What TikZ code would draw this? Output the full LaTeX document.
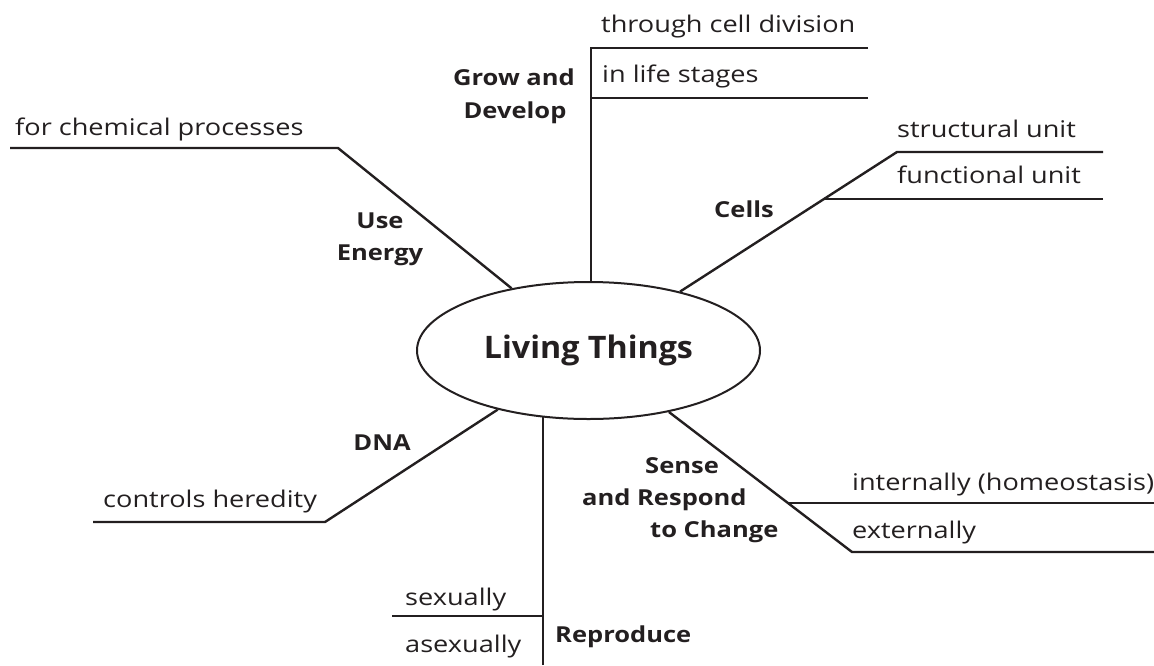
\documentclass[tikz,border=0pt]{standalone}
\usepackage{fontspec}
\setmainfont{Open Sans}
\newfontfamily\leaffont[FakeStretch=1.18]{Open Sans}
\newfontfamily\labfont[FakeStretch=1.16]{Open Sans}
\newfontfamily\titlefont[FakeStretch=1.04]{Open Sans}
\usetikzlibrary{shapes.geometric}
\definecolor{ink}{HTML}{231F20}
\begin{document}
\begin{tikzpicture}[x=1pt,y=-1pt,
  conn/.style={draw=ink,line width=2.4pt},
  leaf/.style={font=\leaffont\fontsize{23}{27}\selectfont,text=ink,anchor=base west,inner sep=0pt},
  lab/.style={font=\labfont\fontsize{22}{26}\selectfont\bfseries,text=ink,anchor=base,inner sep=0pt},
  labw/.style={lab,anchor=base west}]
\useasboundingbox (0,0) rectangle (1154,665);
\node[ellipse,draw=ink,line width=2pt,minimum width=343pt,minimum height=137pt,inner sep=0pt,
  font=\titlefont\fontsize{31}{36}\selectfont\bfseries,text=ink] (LT) at (588.5,350.5) {Living Things};
% Grow and Develop
\coordinate (g1) at (868,48);
\coordinate (g0) at (591,48);
\coordinate (g2) at (868,98);
\coordinate (g3) at (591,98);
\draw[conn] (g1) -- (g0) -- (g0 |- LT.north);
\draw[conn] (g2) -- (g3);
\node[leaf] (t1) at (601,32) {through cell division};
\node[leaf] (t2) at (602,82) {in life stages};
\node[lab] (grow1) at (514,85) {Grow and};
\node[lab] (grow2) at (515,118) {Develop};
% Use Energy
\coordinate (u1) at (10,148);
\coordinate (u2) at (338,148);
\draw[conn] (u1) -- (u2) -- (LT);
\node[leaf] (t3) at (15,135) {for chemical processes};
\node[lab] (use1) at (380,228) {Use};
\node[lab] (use2) at (380,260) {Energy};
% Cells
\coordinate (c1) at (1103,152);
\coordinate (c2) at (897,152);
\coordinate (c3) at (1103,199);
\coordinate (c4) at (824,199);
\draw[conn] (c1) -- (c2) -- (LT);
\draw[conn] (c3) -- (c4);
\node[leaf] (t4) at (897,137) {structural unit};
\node[leaf] (t5) at (897,183) {functional unit};
\node[lab] (cells) at (744,217) {Cells};
% DNA
\coordinate (d1) at (93,522);
\coordinate (d2) at (325,522);
\draw[conn] (d1) -- (d2) -- (LT);
\node[leaf] (t6) at (103,507) {controls heredity};
\node[lab] (dna) at (382,450) {DNA};
% Reproduce
\coordinate (r0) at (543,665);
\coordinate (r1) at (543,416.5);
\coordinate (r2) at (392,616);
\coordinate (r3) at (543,616);
\draw[conn] (r0) -- (r1);
\draw[conn] (r2) -- (r3);
\node[leaf] (t7) at (405,605) {sexually};
\node[leaf] (t8) at (405,652) {asexually};
\node[labw] (repro) at (555,642) {Reproduce};
% Sense and Respond
\coordinate (s1) at (1154,552);
\coordinate (s2) at (852,552);
\coordinate (s3) at (1154,503);
\coordinate (s4) at (789,503);
\draw[conn] (s1) -- (s2) -- (LT);
\draw[conn] (s3) -- (s4);
\node[leaf] (t9) at (852,490) {internally (homeostasis)};
\node[leaf] (t10) at (852,538) {externally};
\node[labw] (sense1) at (645,473) {Sense};
\node[labw] (sense2) at (582,505) {and Respond};
\node[labw] (sense3) at (650,537) {to Change};
\end{tikzpicture}
\end{document}
